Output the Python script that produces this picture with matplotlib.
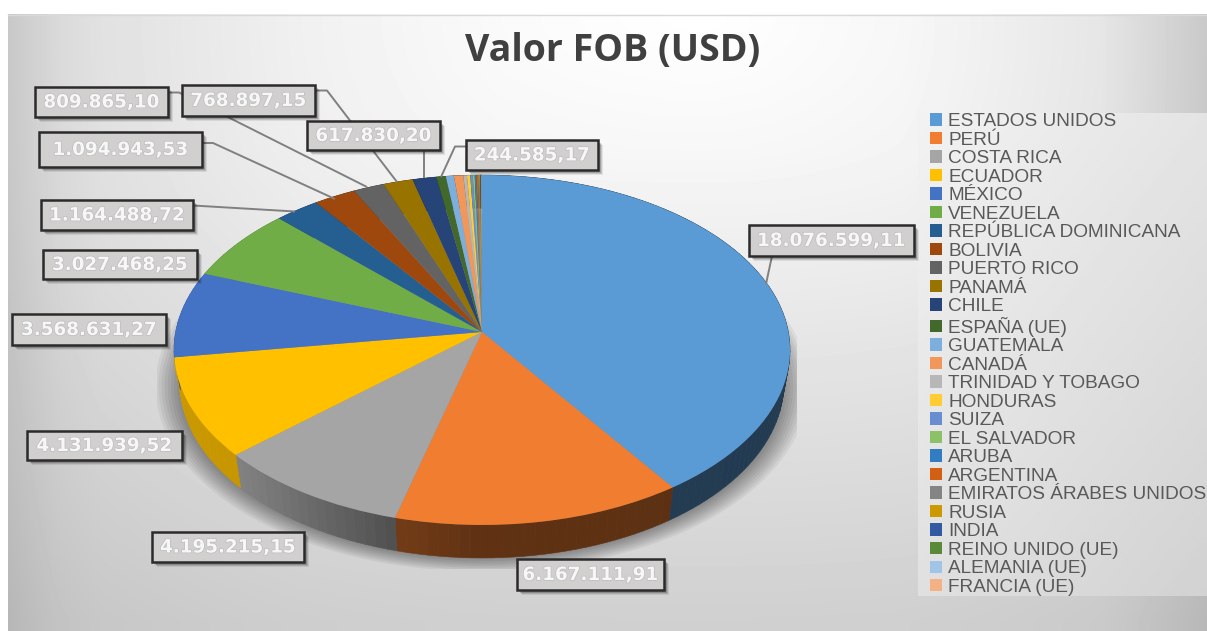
import numpy as np
import matplotlib
matplotlib.use("Agg")
import matplotlib.pyplot as plt
from matplotlib.patches import Rectangle, Polygon
from matplotlib.transforms import Transform
import matplotlib.patheffects as pe

paises = ["ESTADOS UNIDOS", "PERÚ", "COSTA RICA", "ECUADOR", "MÉXICO", "VENEZUELA",
          "REPÚBLICA DOMINICANA", "BOLIVIA", "PUERTO RICO", "PANAMÁ", "CHILE", "ESPAÑA (UE)",
          "GUATEMALA", "CANADÁ", "TRINIDAD Y TOBAGO", "HONDURAS", "SUIZA", "EL SALVADOR",
          "ARUBA", "ARGENTINA", "EMIRATOS ÁRABES UNIDOS", "RUSIA", "INDIA", "REINO UNIDO (UE)",
          "ALEMANIA (UE)", "FRANCIA (UE)"]
valores = [18076599.11, 6167111.91, 4195215.15, 4131939.52, 3568631.27, 3027468.25,
           1164488.72, 1094943.53, 809865.10, 768897.15, 617830.20, 244585.17,
           210000, 240000, 95000, 85000, 65000, 50000,
           45000, 40000, 30000, 25000, 20000, 12000, 10000, 6000]
colores = ["#5B9BD5", "#F07D30", "#A5A5A5", "#FFC000", "#4472C4", "#70AD47",
           "#255E91", "#9E480E", "#636363", "#997300", "#264478", "#43682B",
           "#7CAFDD", "#F1975A", "#B7B7B7", "#FFCD33", "#698ED0", "#8CC168",
           "#327DC2", "#D26012", "#848484", "#CC9A00", "#335AA1", "#5A8A39",
           "#A2C4E6", "#F4B183"]

# etiquetas: texto, caja (x0, y0, x1, y1) en pixeles
etiquetas = ["809.865,10", "768.897,15", "617.830,20", "1.094.943,53", "244.585,17",
             "1.164.488,72", "3.027.468,25", "3.568.631,27", "4.131.939,52",
             "4.195.215,15", "6.167.111,91", "18.076.599,11"]
cajas = [(35, 87, 168, 117), (182, 85, 315, 116), (307, 121, 440, 150), (39, 132, 202, 167),
         (466, 140, 598, 170), (41, 200, 193, 230), (43, 250, 197, 279), (12, 314, 166, 345),
         (27, 431, 182, 460), (152, 532, 304, 562), (517, 559, 664, 590), (749, 225, 914, 256)]
lineas = [[(168, 92.5), (179, 92.5), (367, 187)],
          [(315, 90.5), (327, 90.5), (397, 182)],
          [(424, 150), (424, 178)],
          [(202, 143), (213, 143), (335, 199)],
          [(466, 146.5), (455, 146.5), (441, 177)],
          [(193, 205.5), (295, 211.5)],
          [(772, 256), (766, 284)]]

W, H = 1207, 631
CX, CY = 482, 332
K, RX, RY = 0.1029, 306.4, 173.1
PROF, ESC = 33, 0.98


def proyecta(u, v):
    w = 1 + K * v
    return CX + RX * u / w, CY - RY * v / w


class Perspectiva(Transform):
    input_dims = 2
    output_dims = 2
    has_inverse = False

    def transform_non_affine(self, xy):
        xy = np.asarray(xy)
        x, y = proyecta(xy[:, 0], xy[:, 1])
        return np.column_stack([x, y])


fig = plt.figure(figsize=(W / 100, H / 100), dpi=100, facecolor="white")
ax = fig.add_axes([0, 0, 1, 1])

wedges, _ = ax.pie(valores, colors=colores, startangle=90, counterclock=False,
                   wedgeprops={"linewidth": 0})
ax.set_aspect("auto")
ax.axis("off")
for w in wedges:
    w.set_transform(Perspectiva() + ax.transData)
    w.set_zorder(5)

# fondo degradado
xx, yy = np.meshgrid(np.arange(8, W), np.arange(14, H))
hx = np.interp(xx, [8, 60, 100, 300, 500, 700, 900, 1100, 1207], [55, 37, 30, 15, 5, 0, 8, 25, 54])
hy = np.interp(yy, [14, 150, 350, 620], [0, 8, 26, 47])
fondo = 255 - np.hypot(hx, hy)
ax.imshow(fondo, extent=(8, W, H, 14), cmap="gray", vmin=0, vmax=255, aspect="auto", zorder=0)
ax.plot([8, W], [14.5, 14.5], color="#d9d9d9", lw=1, zorder=1)

# panel de la leyenda
lx, ly = np.meshgrid(np.linspace(0, 1, 100), np.linspace(0, 1, 100))
panel = 242 - 14 * lx - 18 * ly
ax.imshow(panel, extent=(918, W, 596, 113), cmap="gray", vmin=0, vmax=255, aspect="auto", zorder=1)
ax.set_xlim(0, W)
ax.set_ylim(H, 0)

# sombra
recorte = Rectangle((157, 0), 640, 569, transform=ax.transData)
t = np.linspace(0, 2 * np.pi, 200)
for esc in np.linspace(1.06, 0.98, 9):
    sx, sy = proyecta(np.cos(t), np.sin(t))
    puntos = np.column_stack([CX + (sx - CX) * esc, 350 + 36 + (sy - 350) * esc])
    p = Polygon(puntos, fc="black", ec="none", alpha=0.05, zorder=2)
    ax.add_patch(p)
    p.set_clip_path(recorte)

# lateral de la torta
fracs = np.cumsum([0] + valores) / sum(valores)
for i in range(len(valores)):
    n = max(2, int((fracs[i + 1] - fracs[i]) * 200))
    tramo = 2 * np.pi * np.linspace(fracs[i], fracs[i + 1], n + 1)
    x, y = proyecta(np.sin(tramo), np.cos(tramo))
    x2 = CX + (x - CX) * ESC
    y2 = y + PROF
    base = np.array(matplotlib.colors.to_rgb(colores[i]))
    for j in range(n):
        f = np.interp(x[j], [175, 245, 400, 480, 790], [0.80, 0.78, 0.48, 0.40, 0.38])
        pts = [(x[j], y[j]), (x[j + 1], y[j + 1]), (x2[j + 1], y2[j + 1]), (x2[j], y2[j])]
        ax.add_patch(Polygon(pts, fc=base * f, ec=base * f, lw=0.4, zorder=3))

# lineas guia
for linea in lineas:
    lx_, ly_ = zip(*linea)
    ax.plot(lx_, ly_, color="#808080", lw=1.4, zorder=6, solid_capstyle="butt")

# etiquetas de datos
for txt, (x0, y0, x1, y1) in zip(etiquetas, cajas):
    for d, a in [(5, 0.08), (4, 0.12), (3, 0.18)]:
        ax.add_patch(Rectangle((x0 + d, y0 + d), x1 - x0, y1 - y0, fc="black", ec="none",
                               alpha=a, zorder=7))
    ax.add_patch(Rectangle((x0, y0), x1 - x0, y1 - y0, fc="#d2cfcf", ec="#2b2b2b", lw=1.8, zorder=8))
    ax.text((x0 + x1) / 2, (y0 + y1) / 2 + 0.5, txt, ha="center", va="center", color="#f7f7f7",
            fontsize=13.2, fontweight="bold", family="DejaVu Sans", zorder=9,
            path_effects=[pe.withStroke(linewidth=1.0, foreground="#bdbdbd")])

ax.text(613, 51, "Valor FOB (USD)", ha="center", va="center", fontsize=27, fontweight="bold",
        family="Open Sans", color="#404040", zorder=9)

ax.legend(wedges, paises, loc="upper left", bbox_to_anchor=(930, 113), bbox_transform=ax.transData,
          frameon=False, prop={"family": "Liberation Sans", "size": 13.65}, labelcolor="#595959",
          handlelength=0.63, handleheight=0.63, handletextpad=0.32, labelspacing=0.08,
          borderpad=0, borderaxespad=0)

fig.savefig("out.png", dpi=100)
